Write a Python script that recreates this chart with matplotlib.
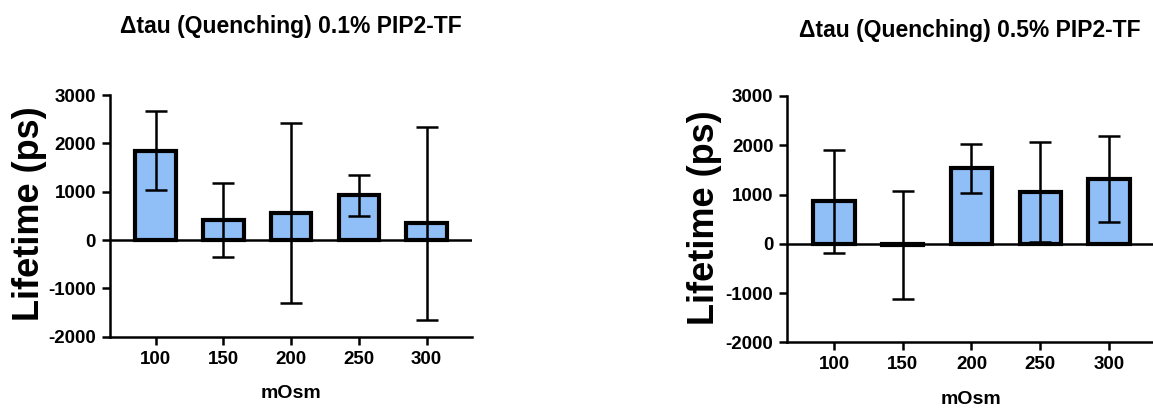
import matplotlib
matplotlib.use("Agg")
import matplotlib.pyplot as plt
import numpy as np

plt.rcParams['font.family'] = ['Liberation Sans', 'DejaVu Sans']
plt.rcParams['font.weight'] = 'bold'
plt.rcParams['axes.unicode_minus'] = False

categories = ["100", "150", "200", "250", "300"]

mean_01 = [1850, 415, 560, 925, 345]
err_01 = [815, 760, 1870, 420, 2000]

mean_05 = [860, -30, 1530, 1050, 1320]
err_05 = [1050, 1100, 500, 1010, 875]

titles = ["\u0394tau (Quenching) 0.1% PIP2-TF", "\u0394tau (Quenching) 0.5% PIP2-TF"]
yticks = [-2000, -1000, 0, 1000, 2000, 3000]

W, H = 1153, 408
fig = plt.figure(figsize=(W / 100, H / 100), dpi=100)

bar_color = "#90BFF7"

panels = [
    dict(l=110, r=472, t=95, b=336.7, m=mean_01, e=err_01, title=titles[0], ty=26,
         ylx=30, yly=214, xlx=291, xly=393, xlim=(-0.675, 4.67)),
    dict(l=787.3, r=1153, t=96, b=342.3, m=mean_05, e=err_05, title=titles[1], ty=30,
         ylx=705, yly=218, xlx=971, xly=400, xlim=(-0.679, 4.64)),
]

for p in panels:
    ax = fig.add_axes([p['l'] / W, (H - p['b']) / H, (p['r'] - p['l']) / W, (p['b'] - p['t']) / H])
    x = np.arange(len(categories))
    ax.bar(x, p['m'], width=0.6, color=bar_color, edgecolor='black', linewidth=3.0, zorder=2)
    ax.errorbar(x, p['m'], yerr=p['e'], fmt='none', ecolor='black', elinewidth=1.8,
                capsize=8, capthick=1.8, zorder=3)
    ax.axhline(0, color='black', linewidth=1.8, zorder=2.5)
    ax.set_xlim(*p['xlim'])
    ax.set_ylim(-2000, 3000)
    ax.set_yticks(yticks)
    ax.set_xticks(x)
    ax.set_xticklabels(categories)
    for s in ['top', 'right']:
        ax.spines[s].set_visible(False)
    for s in ['left', 'bottom']:
        ax.spines[s].set_linewidth(1.8)
    ax.tick_params(axis='both', width=1.8, length=6, labelsize=13.5, pad=4)
    for lab in ax.get_xticklabels() + ax.get_yticklabels():
        lab.set_fontweight('bold')
    ax.patch.set_alpha(0)

    cx = (p['l'] + p['r']) / 2
    fig.text(cx / W, 1 - p['ty'] / H, p['title'], ha='center', va='center',
             fontsize=16.5, fontweight='bold')
    fig.text(p['ylx'] / W, 1 - p['yly'] / H, "Lifetime (ps)", ha='center', va='center',
             rotation=90, fontsize=26, fontweight='bold')
    fig.text(p['xlx'] / W, 1 - p['xly'] / H, "mOsm", ha='center', va='center',
             fontsize=14, fontweight='bold')

fig.savefig("out.png", dpi=100)
